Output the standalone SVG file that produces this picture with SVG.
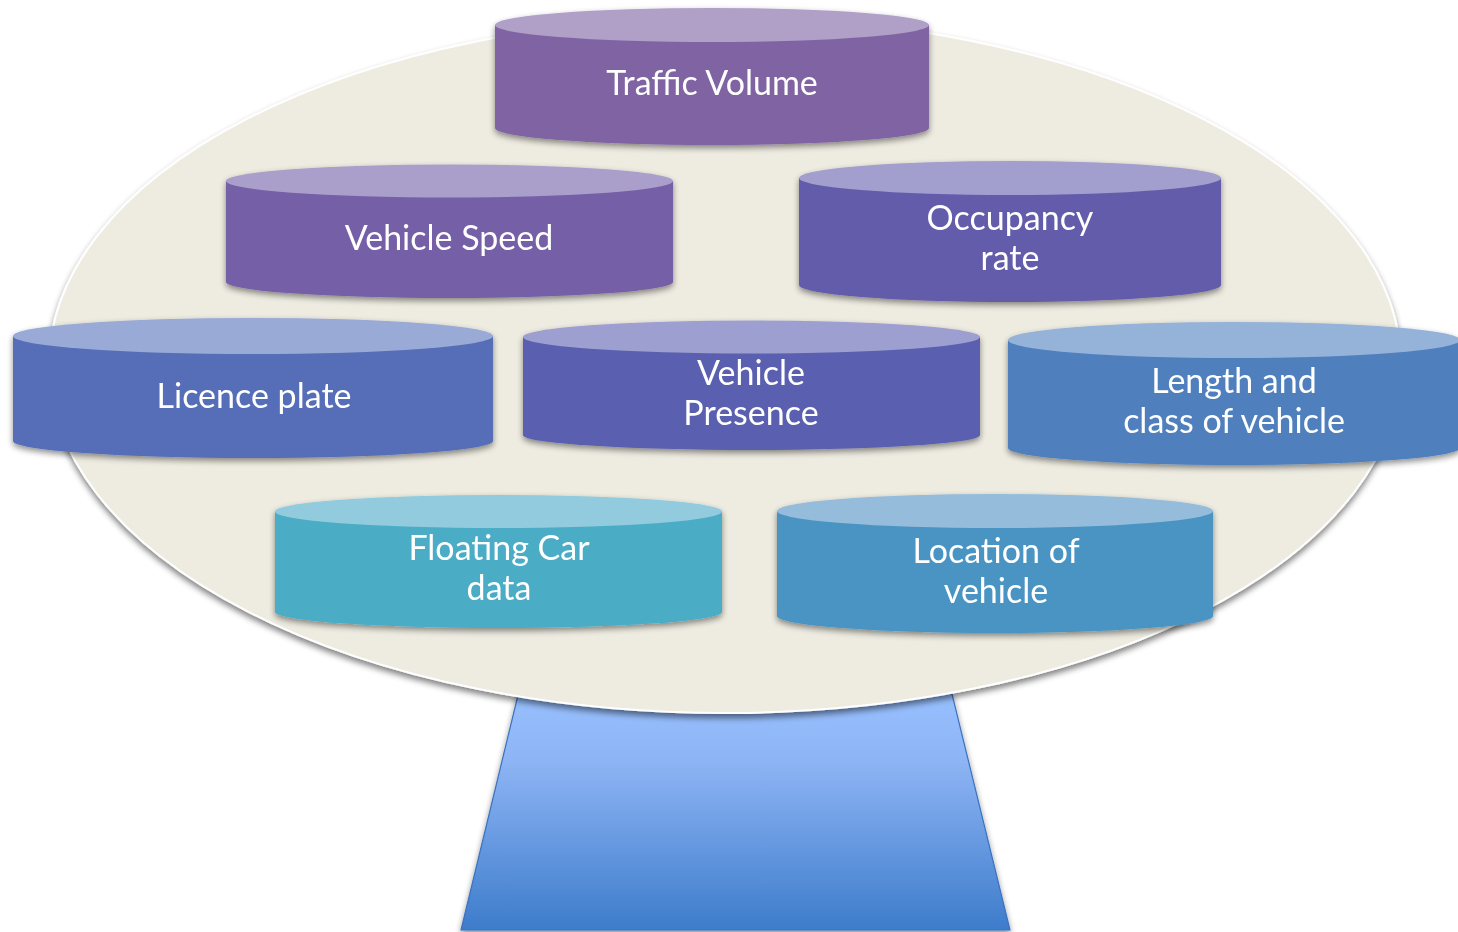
<svg xmlns="http://www.w3.org/2000/svg" width="1458" height="932" viewBox="0 0 1458 932">
<defs>
<linearGradient id="standGrad" x1="0" y1="0" x2="0" y2="1">
<stop offset="0" stop-color="#98C0FF"/>
<stop offset="0.3" stop-color="#8DB4F4"/>
<stop offset="1" stop-color="#3D7CCB"/>
</linearGradient>
<filter id="shadow" x="-10%" y="-10%" width="120%" height="130%">
<feGaussianBlur in="SourceAlpha" stdDeviation="3"/>
<feOffset dx="0" dy="3" result="b"/>
<feComponentTransfer><feFuncA type="linear" slope="0.45"/></feComponentTransfer>
<feMerge><feMergeNode/><feMergeNode in="SourceGraphic"/></feMerge>
</filter>
<filter id="bigShadow" x="-5%" y="-5%" width="110%" height="115%">
<feGaussianBlur in="SourceAlpha" stdDeviation="3"/>
<feOffset dx="0" dy="4" result="b"/>
<feComponentTransfer><feFuncA type="linear" slope="0.5"/></feComponentTransfer>
<feMerge><feMergeNode/><feMergeNode in="SourceGraphic"/></feMerge>
</filter>
</defs>
<style>
.lbl{font-family:Lato,"Open Sans","Liberation Sans",sans-serif;font-size:34px;fill:#FFFFFF;text-anchor:middle}
</style>
<g id="stand">
<path d="M519,691 L952,694 L1010,930 L461,930 Z" fill="url(#standGrad)" stroke="#3A72BF" stroke-width="1.2" filter="url(#shadow)"/>
</g>
<g id="platform">
<ellipse cx="725" cy="365" rx="676" ry="348" fill="#EEECE1" stroke="#FFFFFF" stroke-width="2" filter="url(#bigShadow)"/>
</g>
<g id="traffic-volume" filter="url(#shadow)">
<path d="M495,25 L495,128 A217,17 0 0 0 929,128 L929,25 Z" fill="#8064A2"/>
<ellipse cx="712" cy="25" rx="217" ry="17" fill="#B0A0C8"/>
<text class="lbl" x="712" y="95">Traffic Volume</text>
</g>
<g id="vehicle-speed" filter="url(#shadow)">
<path d="M226,181 L226,282 A223.5,16 0 0 0 673,282 L673,181 Z" fill="#755FA6"/>
<ellipse cx="449.5" cy="181" rx="223.5" ry="16.5" fill="#AA9FCB"/>
<text class="lbl" x="449" y="250">Vehicle Speed</text>
</g>
<g id="occupancy-rate" filter="url(#shadow)">
<path d="M799,178 L799,285 A211,17 0 0 0 1221,285 L1221,178 Z" fill="#645CAB"/>
<ellipse cx="1010" cy="178" rx="211" ry="17" fill="#A29ECE"/>
<text class="lbl" x="1010" y="230">Occupancy</text>
<text class="lbl" x="1010" y="270">rate</text>
</g>
<g id="licence-plate" filter="url(#shadow)">
<path d="M13,336 L13,441 A240,17 0 0 0 493,441 L493,336 Z" fill="#566EB7"/>
<ellipse cx="253" cy="336" rx="240" ry="18" fill="#9AAAD6"/>
<text class="lbl" x="254" y="408">Licence plate</text>
</g>
<g id="vehicle-presence" filter="url(#shadow)">
<path d="M523,337 L523,435 A228.5,15 0 0 0 980,435 L980,337 Z" fill="#5A5FB0"/>
<ellipse cx="751.5" cy="337" rx="228.5" ry="16.5" fill="#9C9FD0"/>
<text class="lbl" x="751" y="385">Vehicle</text>
<text class="lbl" x="751" y="425">Presence</text>
</g>
<g id="length-class" filter="url(#shadow)">
<path d="M1008,340 L1008,448 A226,17 0 0 0 1460,448 L1460,340 Z" fill="#5080BD"/>
<ellipse cx="1234" cy="340" rx="226" ry="18" fill="#95B3D9"/>
<text class="lbl" x="1234" y="393">Length and</text>
<text class="lbl" x="1234" y="433">class of vehicle</text>
</g>
<g id="floating-car" filter="url(#shadow)">
<path d="M275,511.5 L275,612 A223.5,16 0 0 0 722,612 L722,511.5 Z" fill="#4BACC6"/>
<ellipse cx="498.5" cy="511.5" rx="223.5" ry="16.5" fill="#92CBDD"/>
<text class="lbl" x="499" y="560">Floating Car</text>
<text class="lbl" x="499" y="600">data</text>
</g>
<g id="location-vehicle" filter="url(#shadow)">
<path d="M777,511 L777,616 A218,17 0 0 0 1213,616 L1213,511 Z" fill="#4A94C2"/>
<ellipse cx="995" cy="511" rx="218" ry="17" fill="#95BDDB"/>
<text class="lbl" x="996" y="563">Location of</text>
<text class="lbl" x="996" y="603">vehicle</text>
</g>
</svg>
